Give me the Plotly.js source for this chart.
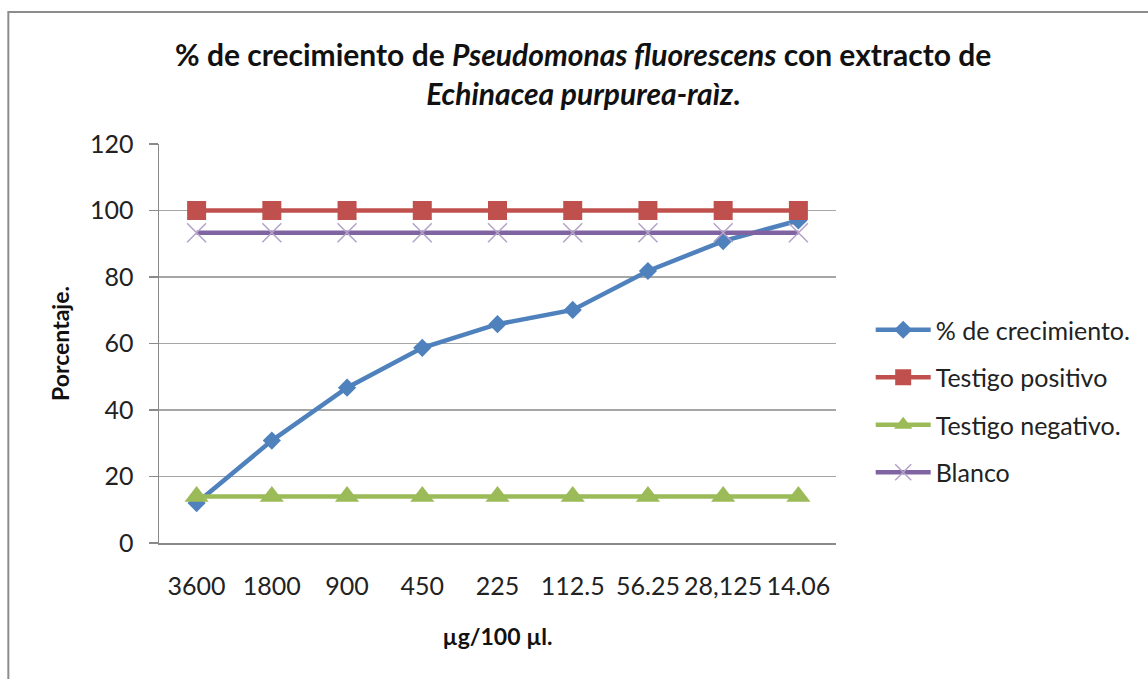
<!DOCTYPE html>
<html>
<head>
<meta charset="utf-8">
<script src="https://cdn.plot.ly/plotly-3.0.1.min.js"></script>
<style>
html,body{margin:0;padding:0;background:#fff;}
#chart{width:1148px;height:679px;}
</style>
</head>
<body>
<div id="chart"></div>
<script>
const categories = ["3600", "1800", "900", "450", "225", "112.5", "56.25", "28,125", "14.06"];
const crecimiento = [12, 30.8, 46.7, 58.7, 65.8, 70.1, 81.8, 90.8, 97];
const testigoPositivo = [100, 100, 100, 100, 100, 100, 100, 100, 100];
const testigoNegativo = [14, 14, 14, 14, 14, 14, 14, 14, 14];
const blanco = [93.3, 93.3, 93.3, 93.3, 93.3, 93.3, 93.3, 93.3, 93.3];
const seriesNames = ["% de crecimiento.", "Testigo positivo", "Testigo negativo.", "Blanco"];

const FONT = "Lato, 'Open Sans', sans-serif";

const traces = [
  {
    x: categories, y: crecimiento, name: seriesNames[0], type: "scatter", mode: "lines+markers",
    line: {color: "#4F81BD", width: 4.5},
    marker: {symbol: "diamond", size: 14, color: "#4F81BD"},
    legendgroup: "a"
  },
  {
    x: categories, y: testigoPositivo, name: seriesNames[1], type: "scatter", mode: "lines+markers",
    line: {color: "#C0504D", width: 4.5},
    marker: {symbol: "square", size: 19, color: "#C0504D"},
    legendgroup: "b"
  },
  {
    x: categories, y: testigoNegativo, name: seriesNames[2], type: "scatter", mode: "lines+markers",
    line: {color: "#9BBB59", width: 4.5},
    marker: {symbol: "triangle-up", size: 21, color: "#9BBB59"},
    legendgroup: "c"
  },
  {
    x: categories, y: blanco, name: seriesNames[3], type: "scatter", mode: "lines+markers",
    line: {color: "#8064A2", width: 4.5},
    marker: {symbol: "x-thin", size: 19, color: "#B3A2C7", line: {color: "#B3A2C7", width: 1.5}},
    legendgroup: "d"
  }
];

const L = 159, R = 842, T = 144, B = 543, W = 1148, H = 679;
const px = v => (v - L) / (R - L);
const py = v => (B - v) / (B - T);

const layout = {
  width: W, height: H,
  margin: {l: L, r: W - R, t: T, b: H - B, pad: 0},
  paper_bgcolor: "#fff", plot_bgcolor: "#fff",
  font: {family: FONT, color: "#222", size: 25},
  title: {
    text: "<b>% de crecimiento de <i>Pseudomonas fluorescens</i> con extracto de<br><i>Echinacea purpurea-raìz</i>.</b>",
    font: {family: FONT, size: 30, color: "#111"},
    x: 0.508, xanchor: "center", xref: "container",
    y: 0.903, yanchor: "middle", yref: "container"
  },
  xaxis: {
    type: "category",
    range: [-0.5, 8.5],
    showgrid: false, zeroline: false,
    showline: true, linecolor: "#8A8A8A", linewidth: 1.5,
    ticks: "", ticklabelstandoff: 20,
    tickfont: {family: FONT, size: 25, color: "#222"},
    title: {text: "<b>µg/100 µl.</b>", font: {family: FONT, size: 23, color: "#111"}, standoff: 30},
    fixedrange: true
  },
  yaxis: {
    range: [0, 120], dtick: 20, tick0: 0,
    showgrid: true, gridcolor: "#A6A6A6", gridwidth: 1.3,
    zeroline: false,
    showline: true, linecolor: "#8A8A8A", linewidth: 1.5,
    ticks: "outside", ticklen: 9, tickcolor: "#8A8A8A", tickwidth: 1.3,
    ticklabelstandoff: 10,
    tickfont: {family: FONT, size: 25, color: "#222"},
    title: {text: "<b>Porcentaje.</b>", font: {family: FONT, size: 23, color: "#111"}, standoff: 14},
    fixedrange: true
  },
  showlegend: true,
  legend: {
    x: px(877), xanchor: "left",
    y: py(401), yanchor: "middle",
    font: {family: FONT, size: 25, color: "#222"},
    bgcolor: "rgba(0,0,0,0)", borderwidth: 0,
    traceorder: "grouped", tracegroupgap: 12,
    itemwidth: 55
  },
  shapes: [
    {
      type: "rect", xref: "paper", yref: "paper",
      x0: px(7), x1: px(1160), y0: py(12), y1: py(700),
      line: {color: "#8C8C8C", width: 2}, fillcolor: "rgba(0,0,0,0)", layer: "below"
    }
  ]
};

Plotly.newPlot("chart", traces, layout, {displayModeBar: false, staticPlot: true});
</script>
</body>
</html>
